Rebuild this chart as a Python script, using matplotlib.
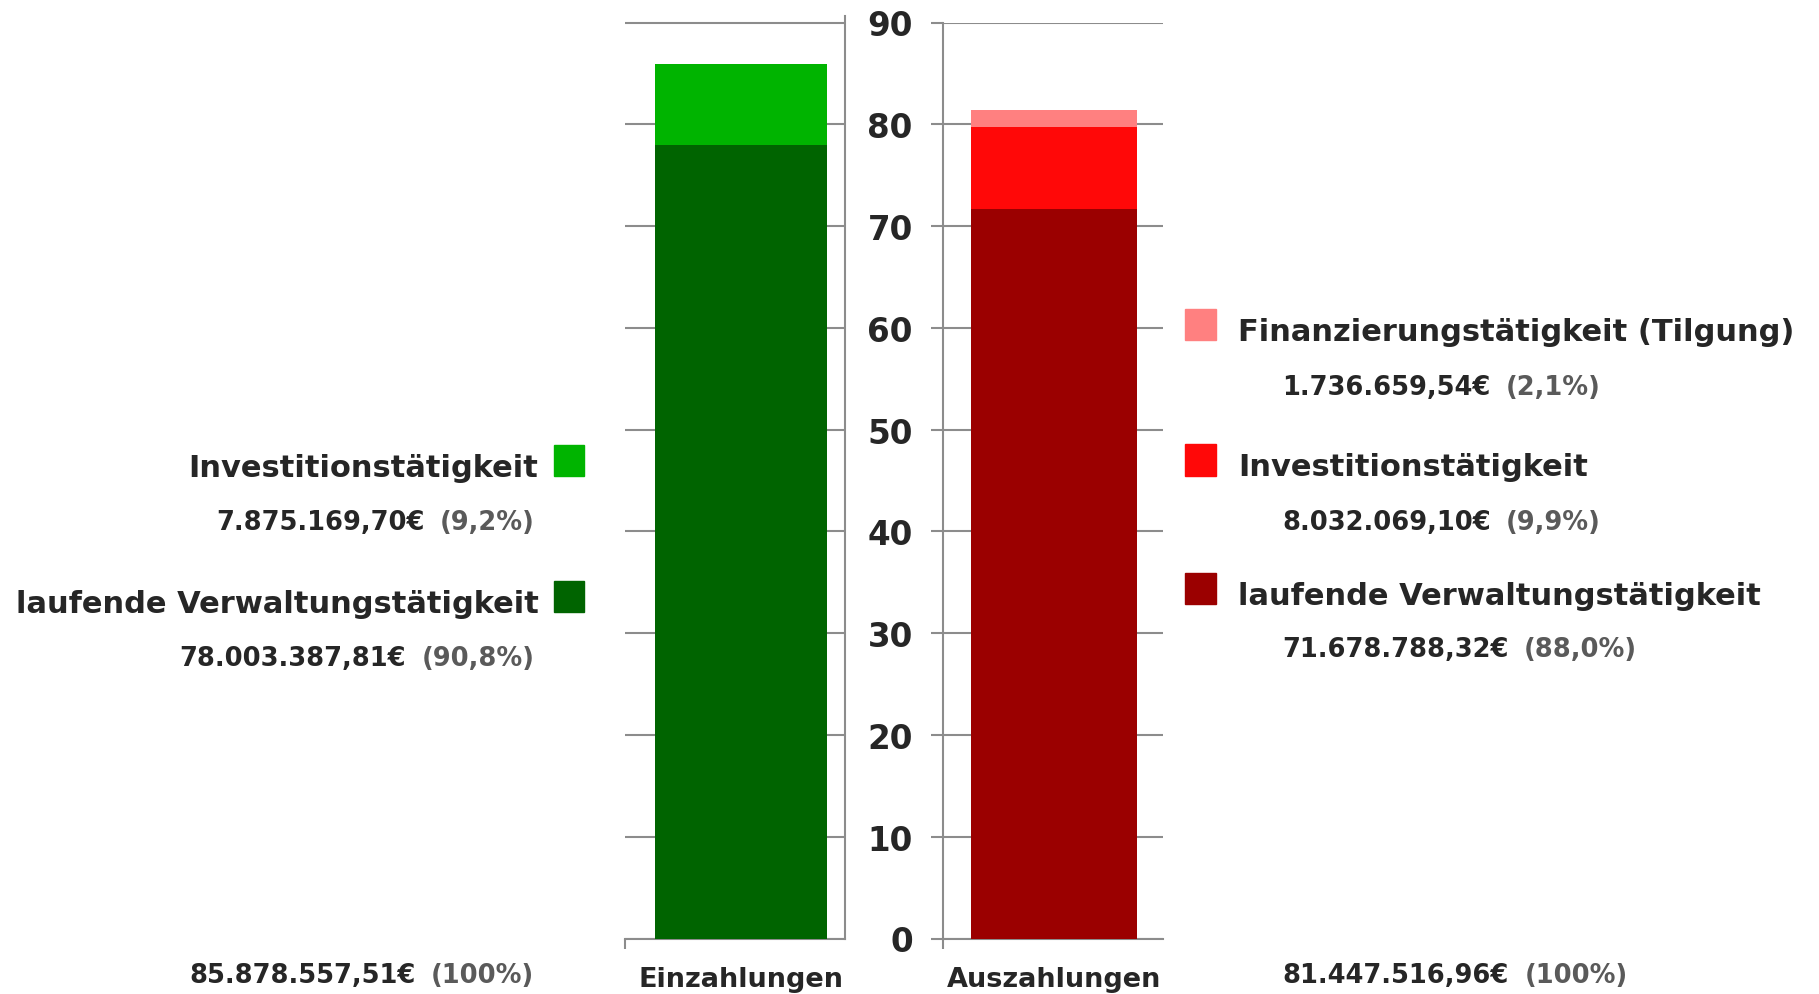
import matplotlib
matplotlib.use("Agg")
import matplotlib.pyplot as plt
from matplotlib.patches import Rectangle
from matplotlib.text import Annotation

# ---------------- data ----------------
categories = ["Einzahlungen", "Auszahlungen"]

ein_labels = ["laufende Verwaltungstätigkeit", "Investitionstätigkeit"]
ein_values = [78003387.81, 7875169.70]
ein_colors = ["#006400", "#00B400"]

aus_labels = ["laufende Verwaltungstätigkeit", "Investitionstätigkeit",
              "Finanzierungstätigkeit (Tilgung)"]
aus_values = [71678788.32, 8032069.10, 1736659.54]
aus_colors = ["#9B0000", "#FF0808", "#FF8080"]

y_ticks = [0, 10, 20, 30, 40, 50, 60, 70, 80, 90]

# ---------------- style ----------------
plt.rcParams["font.family"] = ["DejaVu Sans"]
plt.rcParams["font.weight"] = "bold"
DARK = "#262626"
GREY_TXT = "#5A5A5A"
LINE = "#8C8C8C"

TITLE_FS = 22
VAL_FS = 18.5
TICK_FS = 23.5
CAT_FS = 19.5
GAP_PT = 11

W, H = 1819, 995
fig = plt.figure(figsize=(W / 100, H / 100), dpi=100)


def fx(px):
    return px / W


def fy(py):
    return 1 - py / H


def de_num(v):
    s = f"{v:,.2f}"
    return s.replace(",", "X").replace(".", ",").replace("X", ".") + "€"


def de_pct(p, dec=1):
    if dec == 0:
        return f"({p:.0f}%)"
    return "(" + f"{p:.1f}".replace(".", ",") + "%)"


# axes placement (pixels)
y0_px = 939.5
unit_px = (939.5 - 23.5) / 90.0
left_top = 16.7
ax1 = fig.add_axes([fx(625.3), fy(y0_px), fx(845.3) - fx(625.3), (y0_px - left_top) / H])
ax2 = fig.add_axes([fx(942.9), fy(y0_px), fx(1162.6) - fx(942.9), (y0_px - 23.5) / H])
ax1.set_ylim(0, (y0_px - left_top) / unit_px)
ax2.set_ylim(0, 90)


def style_axes(ax):
    ax.set_axisbelow(True)
    ax.grid(axis="y", color=LINE, linewidth=1.5)
    ax.grid(axis="x", visible=False)
    for s in ax.spines.values():
        s.set_color(LINE)
        s.set_linewidth(1.5)
    ax.spines["top"].set_visible(False)
    ax.set_yticks(y_ticks)


style_axes(ax1)
style_axes(ax2)

ax1.spines["left"].set_visible(False)
ax1.tick_params(axis="y", length=0, labelleft=False, labelright=False)
ax1.set_xlim(-0.526, 0.474)

ax2.spines["right"].set_visible(False)
ax2.tick_params(axis="y", direction="out", length=8.3, width=1.5, color=LINE,
                pad=13.4, labelsize=TICK_FS, labelcolor=DARK)
for lab in ax2.get_yticklabels():
    lab.set_fontweight("bold")
ax2.set_xlim(-0.506, 0.494)

# stacked bars (values in millions)
bottom = 0.0
for v, c in zip(ein_values, ein_colors):
    ax1.bar(0, v / 1e6, width=0.781, bottom=bottom, color=c, zorder=3)
    bottom += v / 1e6
bottom = 0.0
for v, c in zip(aus_values, aus_colors):
    ax2.bar(0, v / 1e6, width=0.754, bottom=bottom, color=c, zorder=3)
    bottom += v / 1e6

# category labels + small separator ticks
for ax, cat in [(ax1, categories[0]), (ax2, categories[1])]:
    ax.set_xticks([0])
    ax.set_xticklabels([cat], fontsize=CAT_FS, fontweight="bold", color=DARK)
    ax.tick_params(axis="x", which="major", length=0, pad=19.5)
    xl = ax.get_xlim()[0]
    ax.set_xticks([xl], minor=True)
    ax.tick_params(axis="x", which="minor", direction="out", length=7.2,
                   width=1.5, color=LINE)

ein_total = sum(ein_values)
aus_total = sum(aus_values)


def value_right_aligned(value, pct_str, right_px, base_px):
    pct = fig.text(fx(right_px), fy(base_px), pct_str, ha="right",
                   va="baseline", fontsize=VAL_FS, fontweight="bold",
                   color=GREY_TXT)
    fig.add_artist(Annotation(
        de_num(value), xy=(0, 0), xycoords=pct, xytext=(-GAP_PT, 0),
        textcoords="offset points", ha="right", va="bottom",
        fontsize=VAL_FS, fontweight="bold", color=DARK,
        annotation_clip=False))


def value_left_aligned(value, pct_str, left_px, base_px):
    val = fig.text(fx(left_px), fy(base_px), de_num(value), ha="left",
                   va="baseline", fontsize=VAL_FS, fontweight="bold",
                   color=DARK)
    fig.add_artist(Annotation(
        pct_str, xy=(1, 0), xycoords=val, xytext=(GAP_PT, 0),
        textcoords="offset points", ha="left", va="bottom",
        fontsize=VAL_FS, fontweight="bold", color=GREY_TXT,
        annotation_clip=False))


def left_entry(title, value, total, color, title_base, val_base):
    fig.text(fx(538.5), fy(title_base), title, ha="right", va="baseline",
             fontsize=TITLE_FS, fontweight="bold", color=DARK)
    fig.add_artist(Rectangle((fx(554.4), fy(title_base)), fx(584.4) - fx(554.4),
                             31 / H, transform=fig.transFigure, color=color))
    value_right_aligned(value, de_pct(value / total * 100), 534.6, val_base)


def right_entry(title, value, total, color, title_base, val_base):
    fig.text(fx(1237.8), fy(title_base), title, ha="left", va="baseline",
             fontsize=TITLE_FS, fontweight="bold", color=DARK)
    fig.add_artist(Rectangle((fx(1185.2), fy(title_base)), fx(1215.9) - fx(1185.2),
                             31 / H, transform=fig.transFigure, color=color))
    value_left_aligned(value, de_pct(value / total * 100), 1281.9, val_base)


# left (Einzahlungen) legend entries
left_entry(ein_labels[1], ein_values[1], ein_total, ein_colors[1], 476.7, 530)
left_entry(ein_labels[0], ein_values[0], ein_total, ein_colors[0], 612.7, 666)

# right (Auszahlungen) legend entries
right_entry(aus_labels[2], aus_values[2], aus_total, aus_colors[2], 341, 395)
right_entry(aus_labels[1], aus_values[1], aus_total, aus_colors[1], 476.5, 530)
right_entry(aus_labels[0], aus_values[0], aus_total, aus_colors[0], 605, 656.7)

# totals
value_right_aligned(ein_total, de_pct(100, 0), 534, 983)
value_left_aligned(aus_total, de_pct(100, 0), 1282.7, 983)

fig.savefig("out.png", dpi=100, facecolor="white")
